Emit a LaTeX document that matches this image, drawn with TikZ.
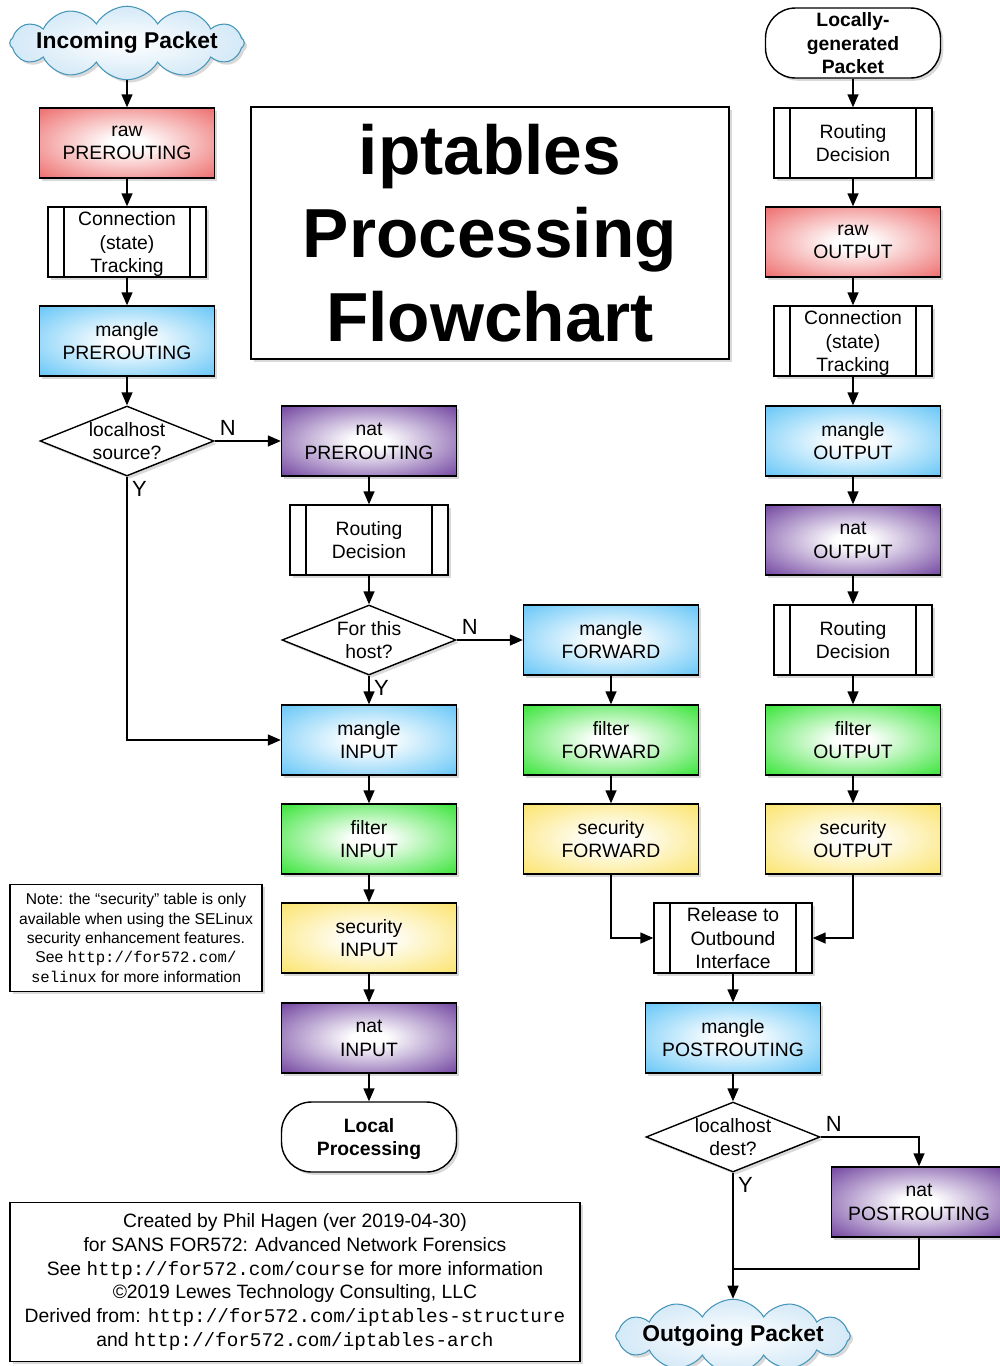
\documentclass[tikz,border=0pt]{standalone}
\usepackage{fontspec}
\setmainfont{Liberation Sans}
\setmonofont{Liberation Mono}
\usetikzlibrary{arrows.meta,shapes.geometric,shapes.symbols,shadows}

\definecolor{rawred}{RGB}{234,78,78}
\definecolor{mangleblue}{RGB}{70,186,245}
\definecolor{filtergreen}{RGB}{14,222,14}
\definecolor{secyellow}{RGB}{250,222,78}
\definecolor{natpurple}{RGB}{84,30,140}
\definecolor{cloudline}{RGB}{70,150,185}
\definecolor{cloudfill}{RGB}{212,233,247}

\pgfdeclareradialshading{rawshade}{\pgfpoint{0bp}{0bp}}{color(0bp)=(white); color(5bp)=(white); color(42bp)=(rawred)}
\pgfdeclareradialshading{mangleshade}{\pgfpoint{0bp}{0bp}}{color(0bp)=(white); color(5bp)=(white); color(42bp)=(mangleblue)}
\pgfdeclareradialshading{filtershade}{\pgfpoint{0bp}{0bp}}{color(0bp)=(white); color(5bp)=(white); color(42bp)=(filtergreen)}
\pgfdeclareradialshading{secshade}{\pgfpoint{0bp}{0bp}}{color(0bp)=(white); color(5bp)=(white); color(42bp)=(secyellow)}
\pgfdeclareradialshading{natshade}{\pgfpoint{0bp}{0bp}}{color(0bp)=(white); color(5bp)=(white); color(42bp)=(natpurple)}

\newcommand{\chainfont}{\fontsize{11pt}{13.4pt}\selectfont}
\newcommand{\ynfont}{\fontsize{12.5pt}{14pt}\selectfont}
\newcommand{\remarkfont}{\fontsize{8.9pt}{11pt}\selectfont}
\newcommand{\creditfont}{\fontsize{11pt}{13.6pt}\selectfont}
\newcommand{\headfont}{\fontsize{39.5pt}{47.5pt}\selectfont\bfseries}
\newcommand{\cloudfont}{\fontsize{13pt}{15pt}\selectfont\bfseries}

\tikzset{
  shadowed/.style={drop shadow={shadow xshift=1.6pt, shadow yshift=-1.6pt, opacity=0.3}},
  box/.style={draw, line width=0.8pt, minimum width=3.5cm, minimum height=1.4cm,
    inner sep=0pt, text depth=-2pt, align=center, shadowed,
    execute at begin node={\rule{0pt}{8.4pt}}},
  rawbox/.style={box, shade, shading=rawshade},
  manglebox/.style={box, shade, shading=mangleshade},
  filterbox/.style={box, shade, shading=filtershade},
  secbox/.style={box, shade, shading=secshade},
  natbox/.style={box, shade, shading=natshade},
  predef/.style={box, fill=white, minimum width=3.16cm,
    path picture={
      \draw[line width=0.8pt] ([xshift=0.32cm]path picture bounding box.north west) -- ([xshift=0.32cm]path picture bounding box.south west);
      \draw[line width=0.8pt] ([xshift=-0.32cm]path picture bounding box.north east) -- ([xshift=-0.32cm]path picture bounding box.south east);}},
  terminal/.style={box, fill=white, rounded corners=0.6cm, font=\chainfont\bfseries},
  decision/.style={diamond, draw, fill=white, line width=0.8pt, minimum width=3.48cm,
    minimum height=1.4cm, inner sep=0pt, shadowed},
  cloudy/.style={cloud, cloud puffs=12, cloud puff arc=120, aspect=6, draw=cloudline,
    line width=0.6pt, shade, inner color=white, outer color=cloudfill,
    inner xsep=-4pt, inner ysep=0pt, font=\cloudfont, shadowed},
  textbox/.style={draw, line width=0.8pt, fill=white, align=center, inner sep=0pt, shadowed},
  arr/.style={line width=0.8pt, -{Triangle[length=0.26cm,width=0.22cm]}},
  yn/.style={inner sep=2.5pt, font=\ynfont}
}

\begin{document}
\begin{tikzpicture}[x=0.02cm, y=-0.02cm, font=\chainfont]
\useasboundingbox (0,0) rectangle (1000,1366);

% incoming packets
\node [cloudy] (inpkt) at (127,43) {Incoming Packet};
\node [rawbox] (rawpre) at (127,143) {raw\\PREROUTING};
\node [predef] (ctpre) at (127,242) {Connection\\(state)\\Tracking};
\node [manglebox] (manglepre) at (127,341) {mangle\\PREROUTING};
\node [decision, label={[align=center]center:localhost\\source?}] (srcq) at (127,441) {};

\node [natbox] (natpre) at (369,441) {nat\\PREROUTING};
\node [predef] (rdin) at (369,540) {Routing\\Decision};
\node [decision, label={[align=center]center:For this\\host?}] (hostq) at (369,640) {};
\node [manglebox] (manglein) at (369,740) {mangle\\INPUT};
\node [filterbox] (filterin) at (369,839) {filter\\INPUT};
\node [secbox] (secin) at (369,938) {security\\INPUT};
\node [natbox] (natin) at (369,1038) {nat\\INPUT};
\node [terminal] (local) at (369,1137) {Local\\Processing};

% forwarded packets
\node [manglebox] (manglefwd) at (611,640) {mangle\\FORWARD};
\node [filterbox] (filterfwd) at (611,740) {filter\\FORWARD};
\node [secbox] (secfwd) at (611,839) {security\\FORWARD};

% locally generated packets
\node [terminal] (localpkt) at (853,43) {Locally-\\generated\\Packet};
\node [predef] (rdout) at (853,143) {Routing\\Decision};
\node [rawbox] (rawout) at (853,242) {raw\\OUTPUT};
\node [predef] (ctout) at (853,341) {Connection\\(state)\\Tracking};
\node [manglebox] (mangleout) at (853,441) {mangle\\OUTPUT};
\node [natbox] (natout) at (853,540) {nat\\OUTPUT};
\node [predef] (rdout2) at (853,640) {Routing\\Decision};
\node [filterbox] (filterout) at (853,740) {filter\\OUTPUT};
\node [secbox] (secout) at (853,839) {security\\OUTPUT};

% outgoing packets
\node [predef] (release) at (733,938) {Release to\\Outbound\\Interface};
\node [manglebox] (manglepost) at (733,1038) {mangle\\POSTROUTING};
\node [decision, label={[align=center]center:localhost\\dest?}] (destq) at (733,1137) {};
\node [natbox] (natpost) at (919,1202) {nat\\POSTROUTING};
\coordinate (merge) at (733,1269);
\node [cloudy] (outpkt) at (733,1336) {Outgoing Packet};

% title and notes
\node [textbox, minimum width=9.56cm, minimum height=5.04cm, font=\headfont] (title) at (490,233) {iptables\\Processing\\Flowchart};
\node [textbox, minimum width=5.04cm, minimum height=2.14cm, font=\remarkfont] (note) at (136,938)
  {Note: the “security” table is only\\available when using the SELinux\\security enhancement features.\\See \texttt{http://for572.com/}\\\texttt{selinux} for more information};
\node [textbox, minimum width=11.4cm, minimum height=3.18cm, font=\creditfont] (credits) at (295,1282)
  {Created by Phil Hagen (ver 2019-04-30)\\for SANS FOR572: Advanced Network Forensics\\See \texttt{http://for572.com/course} for more information\\©2019 Lewes Technology Consulting, LLC\\Derived from: \texttt{http://for572.com/iptables-structure}\\and \texttt{http://for572.com/iptables-arch}};

% straight chains
\foreach \a/\b in {inpkt/rawpre, rawpre/ctpre, ctpre/manglepre, manglepre/srcq,
    natpre/rdin, rdin/hostq, manglein/filterin, filterin/secin, secin/natin, natin/local,
    manglefwd/filterfwd, filterfwd/secfwd,
    localpkt/rdout, rdout/rawout, rawout/ctout, ctout/mangleout, mangleout/natout,
    natout/rdout2, rdout2/filterout, filterout/secout, release/manglepost, manglepost/destq}
  \draw [arr] (\a.south) -- (\b.north);

% branches
\draw [arr] (srcq.east) -- node[pos=0, anchor=south west, yn]{N} (natpre.west);
\draw [arr] (srcq.south) |- node[pos=0, anchor=north west, yn]{Y} (manglein.west);
\draw [arr] (hostq.east) -- node[pos=0, anchor=south west, yn]{N} (manglefwd.west);
\draw [arr] (hostq.south) -- node[pos=0, anchor=north west, yn]{Y} (manglein.north);
\draw [arr] (secfwd.south) |- (release.west);
\draw [arr] (secout.south) |- (release.east);
\draw [arr] (destq.east) -| node[pos=0, anchor=south west, yn]{N} (natpost.north);
\draw [arr] (destq.south) -- node[pos=0, anchor=north west, yn]{Y} (outpkt.north);
\draw [line width=0.8pt] (natpost.south) |- (merge);

\end{tikzpicture}
\end{document}
